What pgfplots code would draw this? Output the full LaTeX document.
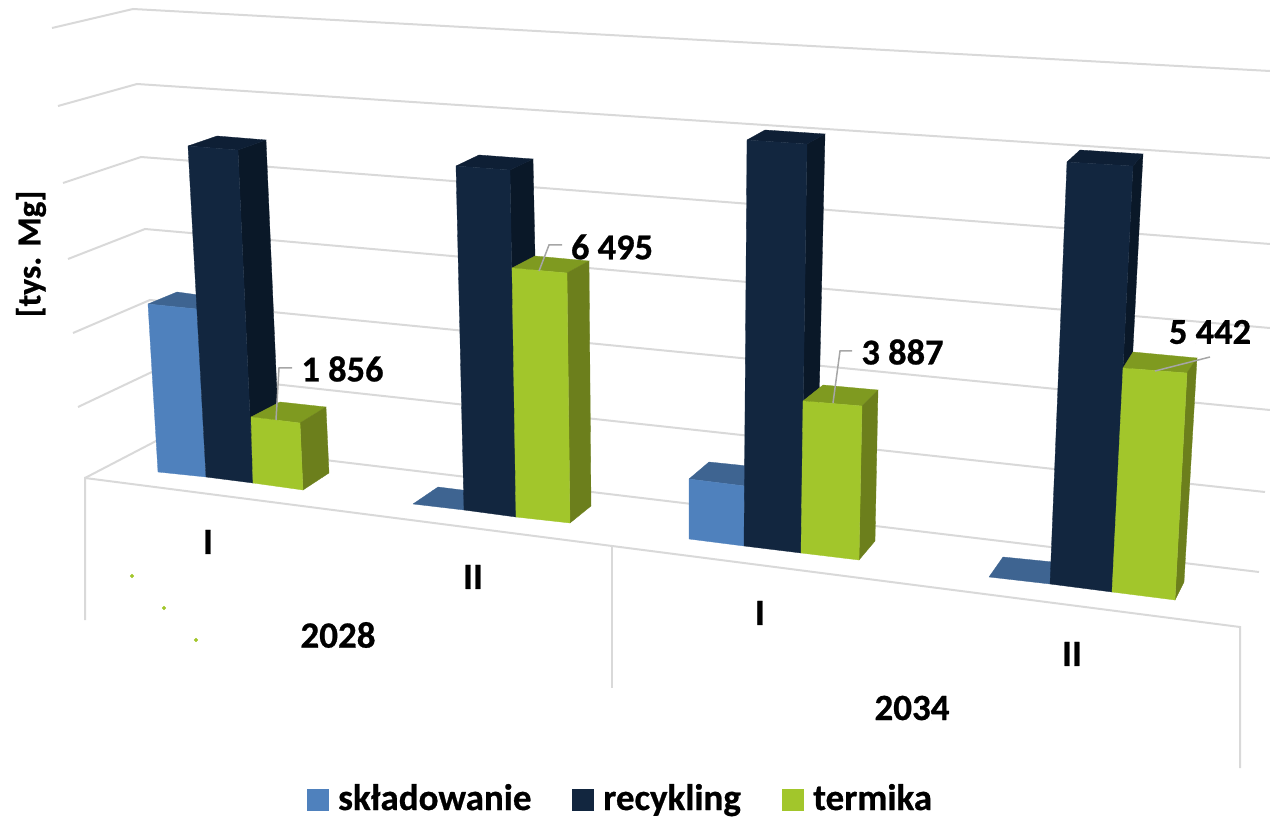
\documentclass[border=0pt]{standalone}
\usepackage{pgfplots}
\pgfplotsset{compat=1.18}
\usepackage{fontspec}
\setmainfont{Carlito}[BoldFeatures={FakeBold=0.7}]

% face colours of the 3D columns
\definecolor{blueF}{HTML}{4F81BD}
\definecolor{blueT}{HTML}{3E6491}
\definecolor{navyF}{HTML}{12263F}
\definecolor{navyT}{HTML}{0E1F35}
\definecolor{navyS}{HTML}{0A1828}
\definecolor{greenF}{HTML}{A2C62B}
\definecolor{greenT}{HTML}{7F9A20}
\definecolor{greenS}{HTML}{6C7F1C}
\definecolor{gridc}{HTML}{D9D9D9}
\definecolor{leader}{HTML}{A6A6A6}

% one flat face of a column
\newcommand{\face}[2]{\addplot[fill=#1,draw=#1,line width=0.3pt] coordinates {#2};}
\newcommand{\grid}[1]{\addplot[gridc,line width=2pt] coordinates {#1};}
\newcommand{\lead}[1]{\addplot[leader,line width=1.5pt] coordinates {#1};}
\newcommand{\lab}[3]{\node[font=\bfseries\fontsize{#3}{#3}\selectfont,text=black,inner sep=0pt,anchor=center] at (axis cs:#1) {#2};}

\begin{document}
\begin{tikzpicture}
\useasboundingbox (0,0) rectangle (1270pt,818pt);
\begin{axis}[
  at={(0,0)},anchor=south west,
  width=1270pt,height=818pt,scale only axis,
  xmin=0,xmax=1270,ymin=0,ymax=818,y dir=reverse,
  hide axis,clip=true]

% value gridlines on side wall and back wall
\grid{(52,28)(133,9)(1270,71)}
\grid{(58,106)(137,84)(1270,158)}
\grid{(63,183)(141,157)(1270,244)}
\grid{(68,259)(145,229)(1270,328)}
\grid{(73,333)(150,300)(1270,410)}
\grid{(78,407)(154,371)(1265,492)}
\grid{(85,478)(158,440)(1259,572)}

% floor edge and category separators
\grid{(85,620)(85,478)(1240,627)(1240,768)}
\grid{(612,547)(612,688)}

% 2028 I
\face{blueT}{(148,304)(177,292)(206,296)(197,309)(148,304)}
\face{blueF}{(148,304)(197,309)(206,477)(158,472)(148,304)}
\face{navyS}{(238,150)(266,140)(279,440)(253,483)(238,150)}
\face{navyT}{(188,146)(217,136)(266,140)(238,150)(188,146)}
\face{navyF}{(188,146)(238,150)(253,483)(206,477)(188,146)}
\face{greenT}{(251,417)(280,402)(326,407)(300,423)(251,417)}
\face{greenS}{(300,423)(326,407)(329,473)(303,490)(300,423)}
\face{greenF}{(251,417)(300,423)(303,490)(253,483)(251,417)}

% 2028 II
\face{blueT}{(413,504)(438,487)(470,491)(464,510)(413,504)}
\face{navyS}{(510,170)(533,159)(540,500)(516,517)(510,170)}
\face{navyT}{(456,166)(479,155)(533,159)(510,170)(456,166)}
\face{navyF}{(456,166)(510,170)(516,517)(464,510)(456,166)}
\face{greenT}{(512,268)(535,256)(589,261)(567,273)(512,268)}
\face{greenS}{(567,273)(589,261)(591,506)(570,523)(567,273)}
\face{greenF}{(512,268)(567,273)(570,523)(516,517)(512,268)}

% 2034 I
\face{blueT}{(689,479)(709,462)(748,466)(745,486)(689,479)}
\face{blueF}{(689,479)(745,486)(744,546)(689,539)(689,479)}
\face{navyS}{(807,144)(825,134)(816,540)(801,553)(807,144)}
\face{navyT}{(747,140)(765,130)(825,134)(807,144)(747,140)}
\face{navyF}{(747,140)(807,144)(801,553)(744,546)(747,140)}
\face{greenT}{(803,401)(823,385)(878,390)(862,406)(803,401)}
\face{greenS}{(862,406)(878,390)(875,541)(859,560)(862,406)}
\face{greenF}{(803,401)(862,406)(859,560)(801,553)(803,401)}

% 2034 II
\face{blueT}{(989,577)(1003,557)(1053,562)(1050,584)(989,577)}
\face{navyS}{(1133,166)(1143,154)(1121,580)(1112,592)(1133,166)}
\face{navyT}{(1067,162)(1080,150)(1143,154)(1133,166)(1067,162)}
\face{navyF}{(1067,162)(1133,166)(1112,592)(1050,584)(1067,162)}
\face{greenT}{(1123,368)(1133,352)(1197,358)(1187,373)(1123,368)}
\face{greenS}{(1187,373)(1197,358)(1184,582)(1175,600)(1187,373)}
\face{greenF}{(1123,368)(1187,373)(1175,600)(1112,592)(1123,368)}

% leader lines of the value labels
\lead{(276,420)(279,368)(292,368)}
\lead{(539,271)(549,245)(562,245)}
\lead{(833,403)(840,351)(852,351)}
\lead{(1155,371)(1210,357)}

% stray points of the hidden series
\addplot[only marks,mark=*,mark size=1.8pt,color=greenF] coordinates {(132,576)(164,608)(196,640)};

% legend swatches
\face{blueF}{(307,789)(328,789)(328,810)(307,810)(307,789)}
\face{navyF}{(572,789)(593,789)(593,810)(572,810)(572,789)}
\face{greenF}{(782,789)(803,789)(803,810)(782,810)(782,789)}

% value labels
\lab{342.5,369}{1 856}{36.4}
\lab{612,247}{6 495}{36.4}
\lab{902.5,352}{3 887}{36.4}
\lab{1210,332}{5 442}{36.4}

% category labels
\lab{208,542}{I}{37}
\lab{473,577}{II}{37}
\lab{760,613}{I}{37}
\lab{1072,654}{II}{37}
\lab{338,635}{2028}{37}
\lab{912,708}{2034}{37}

% legend entries
\node[font=\bfseries\fontsize{37}{37}\selectfont,anchor=base west,inner sep=0pt] at (axis cs:338,810) {składowanie};
\node[font=\bfseries\fontsize{37}{37}\selectfont,anchor=base west,inner sep=0pt] at (axis cs:603,810) {recykling};
\node[font=\bfseries\fontsize{37}{37}\selectfont,anchor=base west,inner sep=0pt] at (axis cs:813,810) {termika};

% unit label
\node[font=\bfseries\fontsize{33.5}{33.5}\selectfont,rotate=90,inner sep=0pt,anchor=center] at (axis cs:31,254) {[tys. Mg]};
\end{axis}
\end{tikzpicture}
\end{document}
